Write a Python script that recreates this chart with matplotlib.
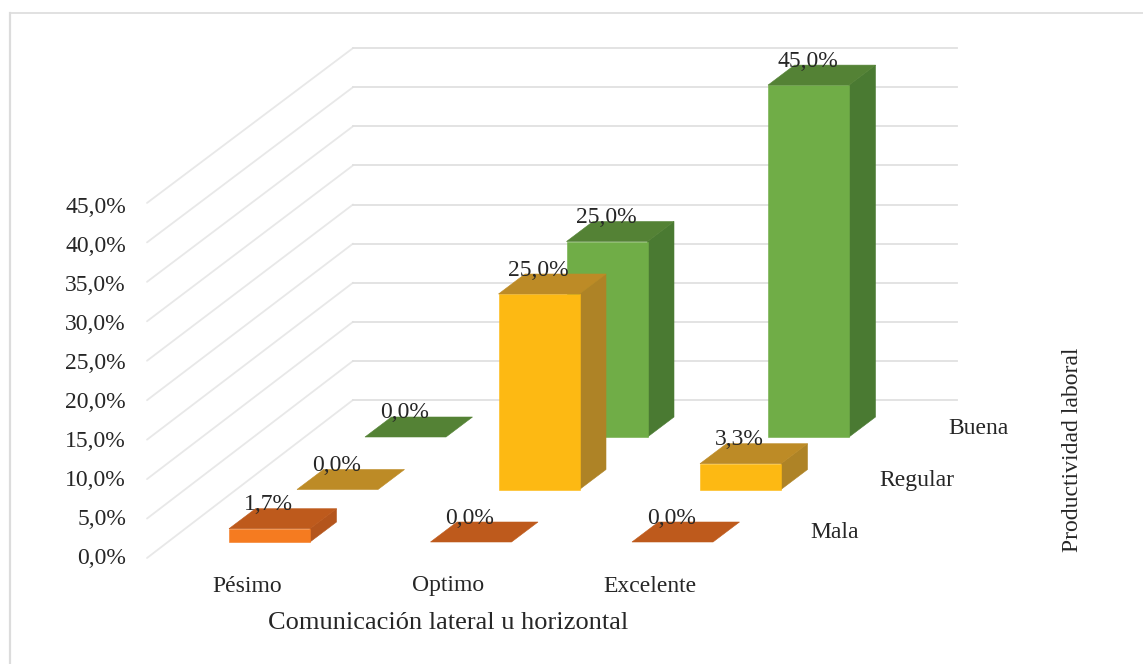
import matplotlib
matplotlib.use("Agg")
import matplotlib.pyplot as plt
from matplotlib.patches import Polygon

# Survey percentages per lateral-communication level and productivity level
comunicacion = ["Pésimo", "Optimo", "Excelente"]
productividad = ["Mala", "Regular", "Buena"]
mala = [1.7, 0.0, 0.0]
regular = [0.0, 25.0, 3.3]
buena = [0.0, 25.0, 45.0]
y_ticks = [0, 5, 10, 15, 20, 25, 30, 35, 40, 45]

# Front, top and side shades for each depth row
front_colors = ["#F57B20", "#FDB913", "#70AD47"]
top_colors = ["#BE5A1C", "#BD8B26", "#548235"]
side_colors = ["#B4551C", "#AE8326", "#4A7A32"]

TEXT = "#262626"
GRID = "#E0E0E0"
FONT = "Liberation Serif"

plt.rcParams["font.family"] = FONT

W, H = 1143, 664
fig = plt.figure(figsize=(W / 100, H / 100), dpi=100, facecolor="white")
ax = fig.add_axes([0, 0, 1, 1])
ax.set_xlim(0, W)
ax.set_ylim(H, 0)
ax.axis("off")

# Oblique projection settings for the pseudo-3D scene
UNIT = 7.82
BAR_W = 81
CAT_STEP = 201.5
ROW_DX, ROW_DY = 68, 52.5
DEPTH_DX, DEPTH_DY = 26.5, 20
X0, Y0 = 229, 542


def project(cat, row, value):
    """Screen position of a bar's front-left corner at the given height."""
    return X0 + CAT_STEP * cat + ROW_DX * row, Y0 - ROW_DY * row - UNIT * value


def draw_bar(cat, row, value):
    x, y = project(cat, row, value)
    _, base = project(cat, row, 0)
    r = x + BAR_W
    dx, dy = DEPTH_DX, DEPTH_DY
    faces = []
    if value > 0:
        faces.append(([(r, y), (r + dx, y - dy), (r + dx, base - dy), (r, base)], side_colors[row]))
        faces.append(([(x, y), (r, y), (r, base), (x, base)], front_colors[row]))
    faces.append(([(x, y), (x + dx, y - dy), (r + dx, y - dy), (r, y)], top_colors[row]))
    for pts, color in faces:
        ax.add_patch(Polygon(pts, closed=True, facecolor=color, edgecolor=color, lw=0.4, zorder=3))


# Chart frame: only the top and left rules are present
ax.plot([10, 10], [H, 13], color="#DCDCDC", lw=1.6, zorder=1)
ax.plot([10, W], [13, 13], color="#DCDCDC", lw=1.2, zorder=1)

# Gridlines run along the side wall and across the back wall
for v in y_ticks:
    y_front = 558 - 7.89 * v
    y_back = 400 - 7.82 * v
    ax.plot([147, 353], [y_front, y_back], color="#E8E8E8", lw=1.3, zorder=2,
            solid_capstyle="round")
    ax.plot([353, 957], [y_back, y_back], color=GRID, lw=1.3, zorder=2)
    ax.text(126, 558.5 - 7.8 * v, f"{v:.1f}%".replace(".", ","), ha="right", va="center",
            fontsize=17, color=TEXT, zorder=5)

# Rows are painted back to front so nearer bars cover farther ones
series = [mala, regular, buena]
for row in (2, 1, 0):
    for cat, value in enumerate(series[row]):
        draw_bar(cat, row, value)

for row, values in enumerate(series):
    for cat, value in enumerate(values):
        x, y = project(cat, row, value)
        ax.text(x + 39.5, y - 24, f"{value:.1f}%".replace(".", ","), ha="center", va="center",
                fontsize=17, color=TEXT, zorder=6)

# Category, depth and axis labels
for cat, name in enumerate(comunicacion):
    ax.text(247 + CAT_STEP * cat, 586, name, ha="center", va="center", fontsize=17, color=TEXT)
for row, name in enumerate(productividad):
    ax.text(810 + 69 * row, 532 - 51.5 * row, name, ha="left", va="center", fontsize=17, color=TEXT)

ax.text(448, 623, "Comunicación lateral u horizontal", ha="center", va="center",
        fontsize=19, color=TEXT)
ax.text(1072, 450, "Productividad laboral", ha="center", va="center", rotation=90,
        fontsize=17, color=TEXT)

fig.savefig("out.png", dpi=100, facecolor="white")
